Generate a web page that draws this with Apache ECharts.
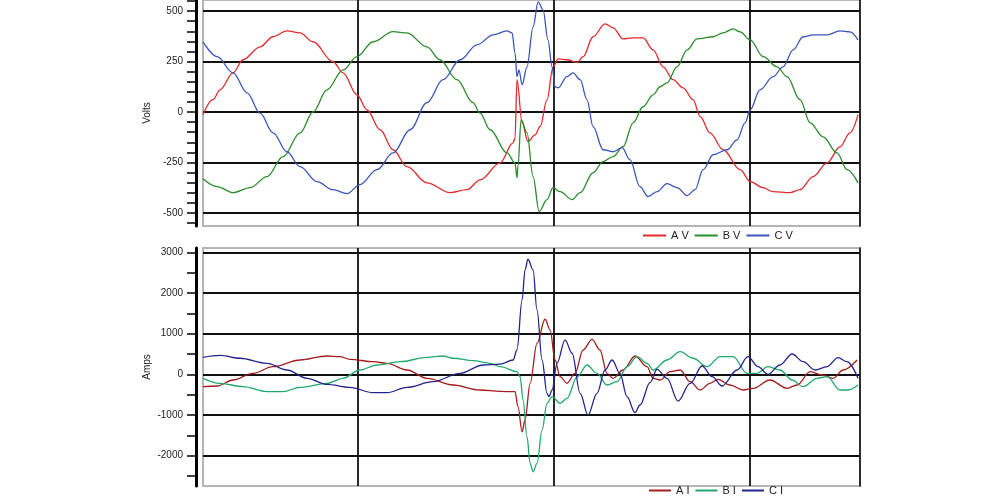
<!DOCTYPE html>
<html>
<head>
<meta charset="utf-8">
<script src="https://cdn.jsdelivr.net/npm/echarts@6/dist/echarts.min.js"></script>
<style>html,body{margin:0;padding:0;background:#fff}#c{width:1000px;height:500px}</style>
</head>
<body>
<div id="c"></div>
<script>
// time in ms, vertical gridlines every 10 ms
const timeGrid = [10, 20, 30];
const voltTicks = [-550,-500,-450,-400,-350,-300,-250,-200,-150,-100,-50,0,50,100,150,200,250,300,350,400,450,500,550];
const voltLabels = [-500, -250, 0, 250, 500];
const ampTicks = [-2500,-2000,-1500,-1000,-500,0,500,1000,1500,2000,2500,3000];
const ampLabels = [-2000, -1000, 0, 1000, 2000, 3000];

const avPoints = [[2.12,-13],[2.63,61],[2.99,110],[3.65,194],[4.16,259],[5.03,323],[5.69,373],[6.40,402],[7.07,392],[7.73,348],[8.75,249],[9.26,194],[9.97,85],[10.48,11],[11.15,-88],[11.81,-187],[12.52,-271],[13.54,-351],[14.72,-400],[15.58,-385],[16.25,-336],[17.27,-252],[17.93,-153],[18.03,-130],[18.13,160],[18.39,-53],[18.69,-147],[19.05,-113],[19.31,-73],[19.66,60],[19.97,224],[20.23,263],[20.68,259],[21.20,245],[21.50,274],[22.01,373],[22.62,437],[23.03,417],[23.54,362],[24.05,367],[24.56,367],[25.07,308],[25.58,224],[26.09,160],[26.60,120],[27.11,61],[27.47,-23],[27.97,-103],[28.64,-187],[29.51,-286],[30.02,-345],[30.68,-375],[31.19,-395],[32.05,-400],[32.56,-385],[33.23,-320],[33.94,-252],[34.60,-173],[35.11,-103],[35.52,-13]];
const bvPoints = [[2.12,-331],[2.84,-370],[3.65,-400],[4.52,-375],[5.39,-320],[6.20,-221],[7.07,-103],[7.73,0],[8.44,110],[9.26,209],[9.97,274],[10.79,348],[11.81,398],[12.52,392],[13.54,323],[14.20,259],[15.07,160],[15.89,46],[16.25,-6],[16.76,-88],[17.62,-203],[18.03,-252],[18.13,-326],[18.18,-270],[18.34,-38],[18.64,-103],[18.95,-320],[19.26,-493],[19.66,-434],[19.97,-375],[20.33,-395],[20.94,-434],[21.35,-400],[22.01,-301],[22.52,-246],[23.03,-221],[23.54,-172],[24.05,-54],[24.56,26],[25.07,85],[25.43,125],[25.78,144],[26.29,224],[26.81,308],[27.31,362],[28.13,373],[28.64,392],[29.15,412],[29.51,397],[30.02,357],[30.68,274],[31.39,224],[31.90,175],[32.56,61],[33.08,-54],[33.74,-123],[34.45,-203],[34.96,-286],[35.52,-351]];
const cvPoints = [[2.12,348],[2.84,274],[3.65,194],[4.37,95],[5.03,-6],[5.69,-103],[6.40,-197],[7.07,-271],[7.93,-345],[8.75,-385],[9.46,-405],[10.12,-360],[10.99,-286],[11.81,-203],[12.68,-88],[13.54,46],[14.36,160],[15.23,259],[16.09,333],[16.91,382],[17.62,402],[17.88,392],[18.03,292],[18.13,175],[18.23,209],[18.39,135],[18.64,224],[18.95,422],[19.21,546],[19.46,506],[19.71,357],[19.92,224],[20.07,125],[20.23,120],[20.68,175],[20.99,194],[21.35,160],[21.70,61],[22.01,-73],[22.52,-187],[23.03,-197],[23.49,-177],[23.89,-236],[24.40,-370],[24.81,-419],[25.27,-395],[25.78,-355],[26.29,-375],[26.81,-414],[27.21,-385],[27.62,-286],[28.13,-212],[28.84,-187],[29.35,-138],[29.76,-54],[30.02,11],[30.52,110],[31.19,175],[31.70,224],[32.21,308],[32.72,373],[33.23,382],[33.94,382],[34.60,402],[35.11,397],[35.52,357]];

const aiPoints = [[2.12,-305],[2.84,-288],[3.65,-140],[4.67,25],[5.69,187],[7.07,352],[8.44,450],[9.11,433],[9.62,369],[10.79,310],[11.50,271],[12.52,106],[13.54,-98],[14.87,-263],[16.25,-386],[17.27,-420],[18.03,-427],[18.18,-797],[18.39,-1412],[18.54,-1124],[18.80,-221],[19.15,762],[19.56,1353],[19.82,1090],[20.07,352],[20.33,-59],[20.68,-221],[21.09,25],[21.50,598],[21.96,861],[22.36,598],[22.72,25],[23.03,-98],[23.54,106],[24.15,450],[24.76,187],[25.07,-98],[25.43,-140],[25.94,64],[26.45,106],[26.96,-182],[27.47,-386],[27.97,-221],[28.38,-123],[28.99,-263],[29.66,-386],[30.17,-344],[31.03,-140],[31.90,-344],[32.41,-263],[33.08,64],[33.69,-17],[34.25,-98],[34.76,106],[35.47,352]];
const biPoints = [[2.12,-98],[2.99,-221],[4.16,-305],[5.39,-427],[6.20,-427],[7.07,-320],[8.44,-221],[9.26,-98],[10.12,106],[10.99,229],[12.17,310],[13.54,418],[14.36,450],[14.87,394],[15.89,335],[16.76,271],[17.27,187],[18.13,64],[18.29,-59],[18.44,-632],[18.64,-1535],[18.80,-2190],[18.95,-2396],[19.15,-2190],[19.41,-1370],[19.66,-713],[19.92,-551],[20.33,-713],[20.68,-590],[21.20,-59],[21.70,229],[22.21,25],[22.72,-263],[23.23,-182],[23.74,187],[24.25,433],[24.76,271],[25.07,106],[25.78,352],[26.45,556],[27.11,394],[27.82,187],[28.49,433],[29.15,433],[29.86,25],[30.37,25],[30.93,187],[31.54,106],[32.16,-140],[32.72,-305],[33.43,-98],[33.94,-59],[34.60,-386],[35.01,-386],[35.52,-263]];
const ciPoints = [[2.12,418],[2.99,467],[4.01,394],[5.39,271],[6.40,106],[7.42,-98],[8.44,-246],[9.62,-320],[10.79,-452],[11.50,-452],[12.52,-320],[13.85,-182],[15.23,25],[16.40,229],[17.27,250],[17.93,352],[18.13,598],[18.39,1828],[18.54,2566],[18.69,2828],[18.95,2566],[19.15,1582],[19.41,352],[19.66,-467],[19.76,-551],[19.92,-386],[20.17,271],[20.58,844],[20.94,517],[21.35,-467],[21.75,-1001],[22.21,-467],[22.62,106],[22.98,352],[23.38,25],[23.74,-551],[24.15,-944],[24.40,-755],[24.92,-200],[25.27,123],[25.78,-98],[26.34,-657],[26.96,-221],[27.57,204],[28.08,-59],[28.59,-288],[29.35,106],[29.91,433],[30.42,187],[30.93,0],[31.54,229],[32.16,499],[32.72,310],[33.33,106],[33.94,187],[34.50,408],[34.96,310],[35.52,-98]];

const voltColors = ['#e02b2b', '#2a8c2a', '#3a55b8'];
const ampColors = ['#a31d1d', '#22a86e', '#23238c'];

const chart = echarts.init(document.getElementById('c'), null, {renderer: 'canvas'});
const font = 'Arial, "Liberation Sans", sans-serif';

function yAxisLeft(gridIndex, min, max, ticks, labels, name) {
  return {
    type: 'value', gridIndex, min, max, position: 'left', offset: 7,
    name, nameLocation: 'middle', nameGap: 44, nameMoveOverlap: false,
    nameTextStyle: {fontSize: 10, color: '#222', fontFamily: font},
    axisLine: {show: true, onZero: false, lineStyle: {color: '#000', width: 3}},
    axisTick: {show: true, length: 9, customValues: ticks, lineStyle: {color: '#000', width: 1.5}},
    axisLabel: {show: true, customValues: labels, formatter: v => String(v), fontSize: 10, color: '#222', fontFamily: font, margin: 13},
    splitLine: {show: false}
  };
}
function yAxisRight(gridIndex, min, max) {
  return {
    type: 'value', gridIndex, min, max, position: 'right',
    axisLine: {show: true, onZero: false, lineStyle: {color: '#000', width: 1.5}},
    axisTick: {show: false}, axisLabel: {show: false}, splitLine: {show: false}
  };
}
function gridLines(hVals) {
  return {
    silent: true, z: 1, symbol: ['none', 'none'], label: {show: false},
    emphasis: {disabled: true},
    lineStyle: {color: '#111', type: 'solid', width: 1.8},
    data: timeGrid.map(v => ({xAxis: v})).concat(hVals.map(v => ({yAxis: v})))
  };
}
function lineSeries(name, data, color, xi, yi, extra) {
  return Object.assign({
    name, type: 'line', data, xAxisIndex: xi, yAxisIndex: yi,
    showSymbol: false, symbol: 'none', smooth: 0.35, smoothMonotone: 'x',
    lineStyle: {color, width: 1.3}, itemStyle: {color}, z: 2
  }, extra || {});
}

chart.setOption({
  animation: false,
  backgroundColor: '#fff',
  grid: [
    {left: 203, right: 140, top: 0, height: 226, show: true, borderColor: '#b5b5b5', borderWidth: 2, backgroundColor: '#fff'},
    {left: 203, right: 140, top: 248, height: 238, show: true, borderColor: '#b5b5b5', borderWidth: 2, backgroundColor: '#fff'}
  ],
  xAxis: [
    {type: 'value', gridIndex: 0, min: 2.12, max: 35.62, show: false},
    {type: 'value', gridIndex: 1, min: 2.12, max: 35.62, show: false}
  ],
  yAxis: [
    yAxisLeft(0, -565, 555, voltTicks, voltLabels, 'Volts'),
    yAxisLeft(1, -2746, 3105, ampTicks, ampLabels, 'Amps'),
    yAxisRight(0, -565, 555),
    yAxisRight(1, -2746, 3105)
  ],
  legend: [
    {data: ['A V', 'B V', 'C V'], left: 643, top: 230, padding: 0, icon: 'rect', itemWidth: 23, itemHeight: 2, itemGap: 6,
     textStyle: {fontSize: 11, color: '#222', fontFamily: font}, selectedMode: false},
    {data: ['A I', 'B I', 'C I'], left: 649, top: 485, padding: 0, icon: 'rect', itemWidth: 22, itemHeight: 2, itemGap: 6,
     textStyle: {fontSize: 11, color: '#222', fontFamily: font}, selectedMode: false}
  ],
  series: [
    lineSeries('A V', avPoints, voltColors[0], 0, 0, {markLine: gridLines(voltLabels)}),
    lineSeries('B V', bvPoints, voltColors[1], 0, 0),
    lineSeries('C V', cvPoints, voltColors[2], 0, 0),
    lineSeries('A I', aiPoints, ampColors[0], 1, 1, {markLine: gridLines(ampLabels)}),
    lineSeries('B I', biPoints, ampColors[1], 1, 1),
    lineSeries('C I', ciPoints, ampColors[2], 1, 1)
  ]
});
</script>
</body>
</html>
